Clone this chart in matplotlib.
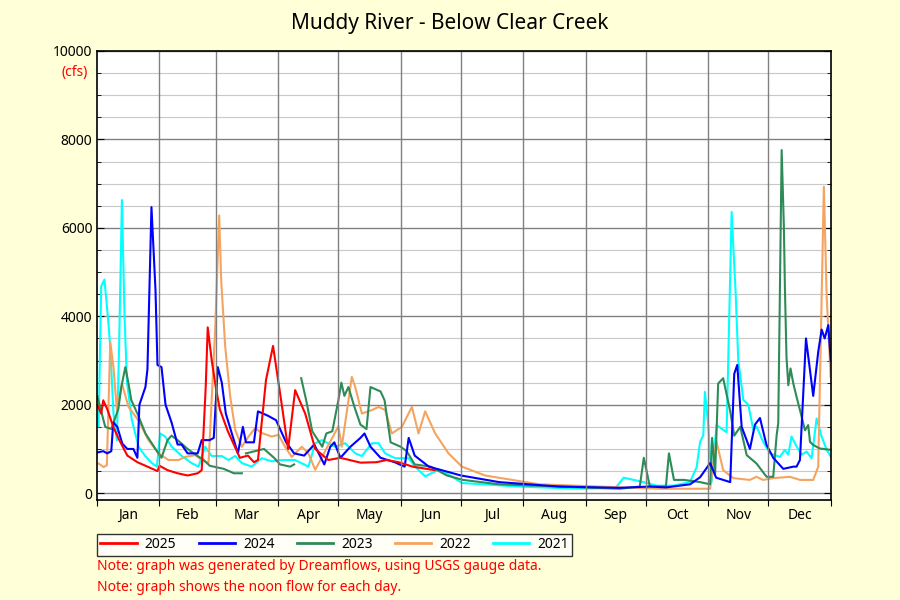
import matplotlib.pyplot as plt
from matplotlib.lines import Line2D

plt.rcParams['font.family'] = ['Noto Sans', 'DejaVu Sans']

# (day of year, cfs) readings per year
d2025 = [0, 2, 3, 5, 8, 11, 15, 20, 25, 30, 31, 35, 40, 45, 50, 52, 54, 55, 57, 59, 61, 65, 68, 71, 75, 78, 80, 84, 87.5, 92, 95, 98.5, 103.5, 108.5, 115, 121, 131, 139, 144, 150, 157, 168]
v2025 = [2000, 1800, 2100, 1900, 1500, 1200, 850, 700, 600, 500, 620, 520, 450, 400, 450, 520, 2400, 3750, 3000, 2400, 1900, 1400, 1100, 800, 850, 700, 750, 2560, 3330, 1950, 1000, 2330, 1800, 1000, 750, 800, 690, 700, 750, 700, 600, 520]

d2024 = [0, 3, 5, 7, 8, 10, 12.5, 15, 18, 20, 21, 24, 25, 27, 29, 30, 32, 34, 37, 40, 42, 45, 50, 52, 56, 58, 60, 62, 64, 68, 70, 72.5, 74, 78, 80, 85, 89, 94, 98, 103, 108, 113, 116, 118, 121, 126, 131, 133, 136, 141, 148, 153, 155, 158, 165, 181, 200, 230, 260, 275, 283, 295, 300, 305, 308, 315, 317, 318.5, 320.7, 324.8, 327.3, 329.8, 333, 336.4, 341.4, 346.4, 348, 349.7, 352.7, 356.3, 358.8, 360.5, 362, 363.8, 365]
v2024 = [920, 950, 900, 950, 1600, 1500, 1120, 1000, 1000, 800, 2000, 2400, 2800, 6470, 4600, 2900, 2850, 2000, 1600, 1100, 1100, 900, 900, 1200, 1200, 1250, 2850, 2500, 1800, 1200, 900, 1500, 1150, 1150, 1850, 1750, 1650, 1150, 900, 850, 1100, 650, 1050, 1150, 800, 1050, 1250, 1350, 1050, 800, 700, 600, 1250, 850, 600, 400, 250, 150, 120, 150, 130, 200, 360, 680, 350, 250, 2700, 2900, 1500, 1000, 1550, 1700, 1100, 800, 550, 600, 600, 750, 3500, 2200, 3200, 3700, 3500, 3800, 3000]

d2023 = [0, 4, 7, 10.5, 12, 14, 15.5, 17, 20, 24, 29, 32, 35, 37, 40, 45, 48, 53, 56, 63, 68, 72, None, 74, 83, 88, 91, 96, 98, None, 101.5, 104, 107, 112, 114, 117, 120, 121.5, 123, 125, 128, 131, 134, 136, 141, 143, 146, 151, 154, 158, 166, 174, 182, 200, 230, 260, 270, 272, 275, 283, 284.5, 287, 292, 300, 305, 306, 307.5, 309, 311.5, 315, 317, 320, 323.2, 328.1, 333.1, 336.4, 338.1, 338.9, 340.6, 341.7, 342.2, 343, 343.9, 345, 346.4, 348, 349.7, 352.2, 353.8, 354.7, 356.3, 359.6, 365]
v2023 = [2200, 1500, 1450, 1900, 2400, 2850, 2500, 2100, 1800, 1350, 1000, 800, 1200, 1300, 1200, 1000, 900, 750, 620, 550, 450, 450, None, 900, 1000, 800, 650, 600, 650, None, 2600, 2100, 1400, 1050, 1350, 1400, 2100, 2500, 2200, 2400, 1950, 1550, 1450, 2400, 2300, 2100, 1150, 1050, 950, 650, 600, 400, 300, 200, 150, 100, 150, 800, 150, 150, 900, 300, 300, 250, 200, 1250, 450, 2480, 2600, 1850, 1300, 1500, 860, 670, 370, 370, 1310, 1580, 7760, 6020, 4670, 3080, 2440, 2820, 2480, 2180, 1880, 1420, 1540, 1160, 1090, 1010, 980]

d2022 = [0.7, 3.2, 4.8, 6.5, 8.1, 9.8, 12.3, 15.6, 20.6, 25.5, 30.5, 35.5, 40.5, 43.8, 48.8, 52, 55.4, 58.7, 60.7, 61.7, 63.7, 66.2, 68.7, 72, 75.3, 78.6, 81.9, 86.9, 90.2, 93.5, 96.8, 101.8, 105.1, 108.5, 120, 121.7, 126.7, 128.4, 131.7, 136.7, 140, 143.3, 146.6, 151.6, 156.6, 159.9, 163.2, 168.2, 174.8, 181.5, 193, 220, 250, 280, 305, 308, 311.5, 316.5, 324.8, 328, 331.4, 336.4, 344.7, 349.7, 356.3, 358.8, 360.5, 361.6, 363, 365]
v2022 = [670, 590, 630, 3420, 2850, 1880, 2480, 1950, 1640, 1200, 900, 750, 750, 820, 860, 750, 680, 3690, 6280, 4820, 3310, 2180, 1430, 1050, 1280, 1470, 1360, 1280, 1320, 1050, 820, 1050, 900, 530, 1510, 1050, 2630, 2400, 1800, 1880, 1950, 1880, 1350, 1500, 1950, 1350, 1850, 1350, 900, 600, 400, 200, 150, 100, 100, 1200, 520, 340, 300, 370, 300, 340, 370, 300, 300, 600, 4440, 6930, 4440, 2630]

d2021 = [0.7, 2, 3.6, 5.3, 6.5, 8.1, 9.8, 10.9, 12.3, 13.6, 14.8, 17.2, 20.6, 23.9, 27.2, 29.7, 31.3, 33.8, 37.1, 42.1, 47, 50.4, 53.7, 57, 62, 65.3, 68.7, 72, 76.9, 81.9, 86.9, 91.9, 98.5, 105.1, 108.5, 111.8, 118.4, 123.4, 128.4, 131.7, 136.7, 140, 143.3, 148.3, 154.9, 158.2, 163.2, 169.8, 176.4, 181.5, 210, 240, 258, 262, 270, 278.4, 286.7, 295, 298.3, 300, 301.6, 302.4, 304.1, 305.7, 308.2, 313.2, 315.7, 317.7, 319, 321.5, 324, 326.5, 328.1, 331.4, 334.8, 339.7, 342.2, 343.9, 345.5, 348, 350.5, 353, 355.5, 358, 360.5, 363, 365]
v2021 = [1510, 4680, 4830, 4000, 3310, 1800, 1200, 3310, 6630, 4000, 2530, 1660, 1050, 840, 680, 600, 1350, 1280, 1050, 840, 680, 600, 1050, 840, 840, 750, 840, 680, 600, 790, 720, 750, 750, 600, 1130, 1200, 1050, 1130, 900, 840, 1130, 1130, 900, 790, 790, 600, 380, 530, 380, 230, 150, 100, 120, 350, 270, 170, 170, 250, 590, 1160, 1310, 2290, 1540, 250, 1540, 1380, 6360, 4520, 3010, 2110, 2000, 1430, 1510, 1160, 900, 820, 980, 870, 1280, 1060, 870, 940, 790, 1690, 1280, 980, 830]

years = ["2025", "2024", "2023", "2022", "2021"]
colors = ["red", "blue", "seagreen", "sandybrown", "cyan"]
series = [(d2025, v2025), (d2024, v2024), (d2023, v2023), (d2022, v2022), (d2021, v2021)]

months = ["Jan", "Feb", "Mar", "Apr", "May", "Jun", "Jul", "Aug", "Sep", "Oct", "Nov", "Dec"]
month_len = [31, 28, 31, 30, 31, 30, 31, 31, 30, 31, 30, 31]

bounds = [0]
for m in month_len:
    bounds.append(bounds[-1] + m)
mids = [(bounds[i] + bounds[i + 1]) / 2 for i in range(12)]

bg = "#FFFFD8"
fig = plt.figure(figsize=(9, 6), dpi=100, facecolor=bg)
ax = fig.add_axes([0.108, 0.167, 0.815, 0.748])
ax.set_facecolor("white")

for (d, v), c, y in zip(reversed(series), reversed(colors), reversed(years)):
    dd = [x if x is not None else float("nan") for x in d]
    vv = [x if x is not None else float("nan") for x in v]
    ax.plot(dd, vv, color=c, lw=1.5, label=y)

ax.set_xlim(0, 365)
ax.set_ylim(-150, 10000)
ax.set_yticks(range(0, 10001, 2000))
ax.set_yticks(range(0, 10001, 500), minor=True)
ax.grid(True, which="minor", axis="y", color="#c8c8c8", lw=0.8)
ax.grid(True, which="major", axis="y", color="#808080", lw=1)
ax.set_xticks(bounds)
ax.set_xticklabels([])
for b in bounds[1:-1]:
    ax.axvline(b, color="#808080", lw=1)
ax.set_xticks(mids, minor=True)
ax.set_xticklabels(months, minor=True)
ax.tick_params(axis="x", which="minor", length=0, pad=6, labelsize=10)
ax.tick_params(axis="x", which="major", length=4)
ax.tick_params(axis="y", which="both", right=True, direction="in")
ax.tick_params(axis="y", which="major", length=5, labelsize=10)
ax.tick_params(axis="y", which="minor", length=3)
for s in ax.spines.values():
    s.set_linewidth(1.2)

fig.text(0.5, 0.952, "Muddy River - Below Clear Creek", ha="center", fontsize=15)
fig.text(0.098, 0.873, "(cfs)", ha="right", color="red", fontsize=10)

handles = [Line2D([], [], color=c, lw=2) for c in colors]
leg = fig.legend(handles, years, loc="upper left", bbox_to_anchor=(0.1, 0.122), ncol=5,
                 frameon=True, fancybox=False, edgecolor="black", fontsize=10,
                 columnspacing=1.6, handlelength=2.6, handletextpad=0.6, borderpad=0.25)
leg.get_frame().set_facecolor("white")

fig.text(0.108, 0.05, "Note: graph was generated by Dreamflows, using USGS gauge data.", color="red", fontsize=10)
fig.text(0.108, 0.015, "Note: graph shows the noon flow for each day.", color="red", fontsize=10)

fig.savefig("out.png", facecolor=bg)
